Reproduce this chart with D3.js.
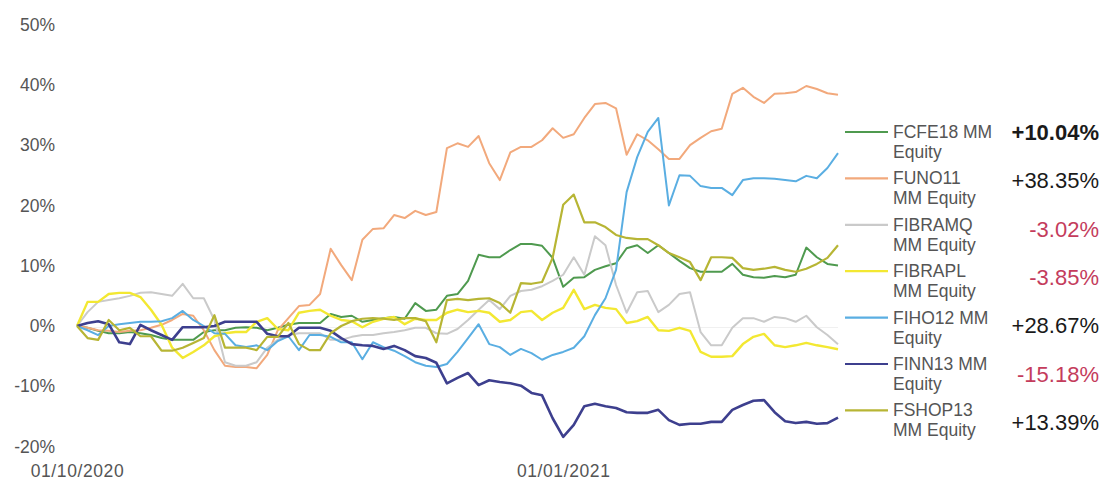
<!DOCTYPE html>
<html><head><meta charset="utf-8">
<script src="https://cdn.jsdelivr.net/npm/d3@7"></script>
<style>body{margin:0;background:#fff}svg{display:block}text{font-family:"Liberation Sans",Arial,sans-serif}</style>
</head><body>
<svg id="c" width="1106" height="483"></svg>
<script>
const dates = ["2020-10-01","2020-10-03","2020-10-05","2020-10-07","2020-10-09","2020-10-11","2020-10-13","2020-10-15","2020-10-17","2020-10-19","2020-10-21","2020-10-23","2020-10-25","2020-10-27","2020-10-29","2020-10-31",
"2020-11-02","2020-11-04","2020-11-06","2020-11-08","2020-11-10","2020-11-12","2020-11-14","2020-11-16","2020-11-18","2020-11-20","2020-11-22","2020-11-24","2020-11-26","2020-11-28","2020-11-30",
"2020-12-02","2020-12-04","2020-12-06","2020-12-08","2020-12-10","2020-12-12","2020-12-14","2020-12-16","2020-12-18","2020-12-20","2020-12-22","2020-12-24","2020-12-26","2020-12-28","2020-12-30",
"2021-01-01","2021-01-03","2021-01-05","2021-01-07","2021-01-09","2021-01-11","2021-01-13","2021-01-15","2021-01-17","2021-01-19","2021-01-21","2021-01-23","2021-01-25","2021-01-27","2021-01-29","2021-01-31",
"2021-02-02","2021-02-04","2021-02-06","2021-02-08","2021-02-10","2021-02-12","2021-02-14","2021-02-16","2021-02-18","2021-02-20","2021-02-22"];

const FCFE18 = [0,-0.3,-0.8,-1.2,-1.2,-1.0,-1.2,-1.5,-2.0,-2.3,-2.3,-2.3,-1.0,-0.7,-0.7,-0.3,-0.2,-0.3,-0.7,-0.3,0.2,0.5,0.5,0.5,2.0,1.5,1.7,0.7,1.0,1.3,1.5,1.2,3.8,2.5,2.7,5.0,5.3,7.5,11.8,11.4,11.4,12.6,13.6,13.6,13.3,11.3,6.5,8.0,8.1,9.3,9.9,10.4,12.9,13.4,12.1,13.4,12.1,10.8,9.6,9.0,9.0,9.0,10.3,8.5,8.1,8.0,8.3,8.1,8.5,13.0,11.4,10.3,10.04];
const FUNO11 = [0,-0.3,-0.7,-0.8,-1.0,-0.8,-0.7,-0.3,0.2,1.0,2.0,1.7,-0.7,-4.0,-6.6,-6.8,-6.8,-7.0,-4.8,-0.7,1.3,3.3,3.5,5.3,12.8,10.1,7.6,14.3,16.1,16.2,18.4,17.9,19.1,18.4,18.9,29.5,30.3,29.7,31.5,27.0,24.2,28.8,29.7,29.7,30.8,32.8,31.2,31.8,34.5,36.8,37.0,36.1,28.4,31.8,30.8,29.3,27.7,27.7,30.0,31.2,32.3,32.7,38.5,39.5,38.0,37.0,38.5,38.6,38.8,39.8,39.3,38.6,38.35];
const FIBRAMQ = [0,2.3,4.0,4.3,4.6,5.0,5.5,5.6,5.3,5.0,7.0,4.6,4.6,1.0,-6.0,-6.6,-6.6,-6.0,-3.6,-2.3,-1.5,-1.2,-1.2,-1.2,-2.3,-2.3,-1.8,-1.5,-1.5,-1.2,-1.0,-0.7,-0.3,-0.3,-1.2,-1.3,-0.5,1.0,2.7,4.3,2.8,5.0,5.8,6.0,6.6,7.5,8.5,11.4,8.5,14.9,13.4,6.8,2.2,5.6,5.8,2.3,3.5,5.3,5.6,-1.0,-3.2,-3.2,-0.3,1.3,1.3,0.7,1.5,1.3,0.7,1.7,-0.2,-1.5,-3.02];
const FIBRAPL = [0,4.0,4.0,5.3,5.5,5.5,4.8,2.7,0.2,-3.6,-5.3,-4.3,-3.2,-1.7,-1.2,-1.0,-1.0,0.7,1.3,-0.5,-0.7,2.2,2.5,2.7,1.7,1.0,0.8,-0.2,0.7,1.2,1.5,0.3,1.2,1.0,1.0,2.2,2.7,2.3,2.5,2.2,0.7,1.0,2.3,2.5,1.0,2.2,3.0,6.0,2.8,3.5,3.0,2.8,0.5,0.8,1.5,-0.7,-0.8,-0.3,-0.8,-4.3,-5.1,-5.1,-5.0,-3.0,-1.8,-1.3,-3.2,-3.5,-3.2,-2.8,-3.2,-3.5,-3.85];
const FIHO12 = [0,-0.7,-1.5,0,0.3,0.5,0.7,0.7,0.8,1.3,2.5,1.0,0,-1.2,-1.3,-3.2,-3.5,-3.2,-4.0,-2.5,-1.7,-4.0,-1.5,-1.5,-1.8,-2.7,-2.7,-5.5,-2.7,-3.5,-4.1,-5.0,-6.0,-6.6,-6.8,-6.3,-4.3,-2.0,0.3,-3.0,-3.5,-4.8,-3.8,-4.5,-5.6,-4.8,-4.3,-3.6,-1.7,1.8,4.6,9.3,22.2,28.0,32.2,34.5,20.0,25.0,24.9,23.2,22.9,22.9,21.7,24.2,24.5,24.5,24.4,24.2,24.0,24.9,24.5,26.2,28.67];
const FINN13 = [0,0.5,0.8,0.3,-2.7,-3.0,0.2,-0.7,-1.5,-2.3,-0.2,-0.2,-0.2,0,0.7,0.7,0.7,0.7,-1.3,-1.7,-1.7,-0.3,-0.3,-0.3,-0.8,-2.0,-3.0,-3.2,-3.3,-3.8,-3.3,-4.0,-5.0,-5.3,-6.1,-9.5,-8.6,-7.8,-9.8,-9.0,-9.3,-9.5,-9.9,-11.1,-11.5,-15.3,-18.4,-16.4,-13.3,-12.9,-13.3,-13.6,-14.3,-14.4,-14.4,-13.9,-15.6,-16.4,-16.2,-16.2,-15.9,-15.9,-13.9,-13.1,-12.4,-12.3,-14.3,-15.8,-16.1,-15.9,-16.2,-16.1,-15.18];
const FSHOP13 = [0,-2.0,-2.3,1.0,-0.7,-0.3,-1.7,-1.7,-4.1,-4.1,-3.6,-2.8,-2.0,1.8,-3.6,-3.6,-3.6,-4.0,-1.8,-1.8,0.5,-3.0,-4.0,-4.0,-1.2,0,0.8,1.2,1.3,1.2,1.0,1.3,1.3,0.8,-2.7,4.3,4.5,4.3,4.5,4.6,3.8,2.2,7.1,7.0,7.3,11.3,20.1,21.8,17.2,17.2,16.4,15.1,14.6,14.4,14.4,13.4,12.1,11.4,10.6,7.6,11.4,11.4,11.3,9.6,9.3,9.5,9.8,9.3,9.0,9.5,10.3,11.3,13.39];

const seriesNames = ["FCFE18","FUNO11","FIBRAMQ","FIBRAPL","FIHO12","FINN13","FSHOP13"];
const seriesValues = [FCFE18,FUNO11,FIBRAMQ,FIBRAPL,FIHO12,FINN13,FSHOP13];
const legendLines = [["FCFE18 MM","Equity"],["FUNO11","MM Equity"],["FIBRAMQ","MM Equity"],["FIBRAPL","MM Equity"],["FIHO12 MM","Equity"],["FINN13 MM","Equity"],["FSHOP13","MM Equity"]];
const returns = ["+10.04%","+38.35%","-3.02%","-3.85%","+28.67%","-15.18%","+13.39%"];
const colors = ["#4f9a4f","#f2a97c","#cacaca","#f3e832","#5aaee2","#3d3f8e","#b7b534"];
const widths = [2,2,2,2.4,2,2.6,2.2];
const yTicks = [50,40,30,20,10,0,-10,-20];
const xTickLabels = [["2020-10-01","01/10/2020"],["2021-01-01","01/01/2021"]];

const svg = d3.select("#c");
const parse = d3.timeParse("%Y-%m-%d");
const x = d3.scaleTime().domain([parse("2020-10-01"), parse("2021-02-22")]).range([77, 838]);
const y = d3.scaleLinear().domain([-20, 50]).range([446.6, 24.5]);

// faint zero line
svg.append("line").attr("x1",77).attr("x2",838).attr("y1",y(0)+1.5).attr("y2",y(0)+1.5)
  .attr("stroke","#f0f0f0").attr("stroke-width",1);

// y axis labels
const yAxis = d3.axisLeft(y).tickValues(yTicks).tickSize(0).tickPadding(0).tickFormat(d => d + "%");
const gy = svg.append("g").attr("transform","translate(55,0)").call(yAxis);
gy.select(".domain").remove();
gy.selectAll("text").attr("font-size",17.5).attr("fill","#555").attr("font-family","Liberation Sans, Arial, sans-serif");

// x axis labels
const xAxis = d3.axisBottom(x).tickValues(xTickLabels.map(d=>parse(d[0]))).tickSize(0).tickPadding(0)
  .tickFormat((d,i)=>xTickLabels[i][1]);
const gx = svg.append("g").attr("transform","translate(0,477)").call(xAxis);
gx.select(".domain").remove();
gx.selectAll("text").attr("dy",0).attr("font-size",17.5).attr("letter-spacing",0.6).attr("fill","#555").attr("font-family","Liberation Sans, Arial, sans-serif");

// lines
const line = d3.line().x((d,i)=>x(parse(dates[i]))).y(d=>y(d)).curve(d3.curveLinear);
seriesValues.forEach((vals,k)=>{
  svg.append("path").datum(vals).attr("d",line).attr("fill","none")
    .attr("stroke",colors[k]).attr("stroke-width",widths[k]).attr("stroke-linejoin","round");
});

// legend
const lg = svg.append("g");
legendLines.forEach((lines,k)=>{
  const ly = 132 + k*46.4;
  lg.append("line").attr("x1",845).attr("x2",888).attr("y1",ly).attr("y2",ly)
    .attr("stroke",colors[k]).attr("stroke-width",2.2);
  const t = lg.append("text").attr("x",893).attr("y",ly+6).attr("font-size",17.5).attr("fill","#555");
  t.append("tspan").attr("x",893).text(lines[0]);
  t.append("tspan").attr("x",893).attr("dy",20).text(lines[1]);
  const neg = returns[k].startsWith("-");
  lg.append("text").attr("x",1099).attr("y",132 + k*48.3 + 8).attr("text-anchor","end")
    .attr("font-size",22).attr("font-weight",k===0?"bold":"normal")
    .attr("fill",neg?"#c43c5c":"#1a1a1a").text(returns[k]);
});
</script>
</body></html>
